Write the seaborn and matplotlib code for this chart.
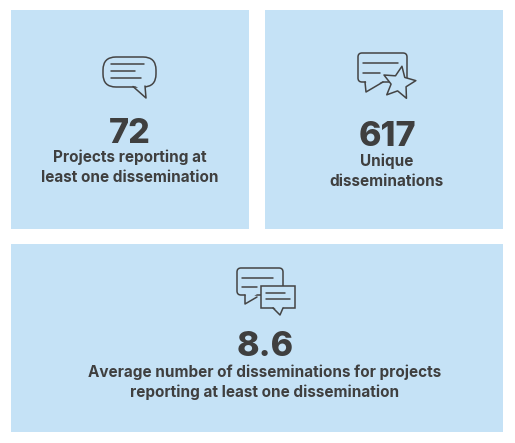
import numpy as np
import matplotlib
matplotlib.use("Agg")
import matplotlib.pyplot as plt
from matplotlib.patches import FancyBboxPatch, Rectangle, Polygon
import seaborn as sns

# Figures shown in the three panels
values = ["72", "617", "8.6"]
labels = [
    ["Projects reporting at", "least one dissemination"],
    ["Unique", "disseminations"],
    ["Average number of disseminations for projects",
     "reporting at least one dissemination"],
]

sns.set_theme(style="white")
plt.rcParams["font.family"] = ["Inter", "DejaVu Sans"]

BG = "#c5e2f6"
INK = "#3f3f3f"
ICON = "#444444"
LW = 1.1

fig = plt.figure(figsize=(5.15, 4.43), dpi=100)
ax = fig.add_axes([0, 0, 1, 1])
ax.set_xlim(0, 515)
ax.set_ylim(443, 0)
ax.axis("off")

# panel boxes: (x0, y0, w, h), number centre x, number baseline, first label baseline
panels = [
    ((11, 10, 238, 219), 130, 143, 162),
    ((265, 10, 238, 219), 387, 146, 166),
    ((11, 244, 492, 188), 265, 356, 377),
]

for (box, cx, nb, lb), val, lab in zip(panels, values, labels):
    ax.add_patch(Rectangle(box[:2], box[2], box[3], color=BG, lw=0))
    ax.text(cx, nb, val, ha="center", va="baseline", fontsize=24.5,
            fontweight="heavy", color=INK)
    for i, row in enumerate(lab):
        ax.text(cx, lb + 19.5 * i, row, ha="center", va="baseline",
                fontsize=11, fontweight="bold", color=INK)


def line(xs, ys, z=3):
    ax.plot(xs, ys, color=ICON, lw=LW, solid_capstyle="round",
            solid_joinstyle="round", zorder=z)


# icon 1: rounded speech bubble
ax.add_patch(FancyBboxPatch((103, 57), 53, 30,
                            boxstyle="round,pad=0,rounding_size=13",
                            fc="none", ec=ICON, lw=LW, zorder=3))
ax.add_patch(Polygon([(134, 85), (145, 85), (145, 93)], closed=True,
                     fc=BG, ec="none", zorder=4))
line([133, 146, 145], [86.5, 98, 86], z=5)
line([111, 144], [64, 64])
line([111, 135], [71, 71])
line([111, 141], [78, 78])

# icon 2: bubble with star
ax.add_patch(FancyBboxPatch((358, 53), 49, 29,
                            boxstyle="round,pad=0,rounding_size=4",
                            fc="none", ec=ICON, lw=LW, zorder=3))
ax.add_patch(Polygon([(366, 81), (383, 81), (367, 90)], closed=True,
                     fc=BG, ec="none", zorder=4))
line([365, 366, 383], [82, 92, 82], z=5)
line([363, 398], [63, 63])
line([363, 380], [73, 73])
ang = np.deg2rad(-80 + 36 * np.arange(10))
rad = np.where(np.arange(10) % 2 == 0, 17, 8)
star = np.column_stack([399 + rad * np.cos(ang), 83 + rad * np.sin(ang)])
ax.add_patch(Polygon(star, closed=True, fc=BG, ec=ICON, lw=LW,
                     joinstyle="round", zorder=6))

# icon 3: two overlapping bubbles
ax.add_patch(FancyBboxPatch((237, 268), 46, 27,
                            boxstyle="round,pad=0,rounding_size=4",
                            fc="none", ec=ICON, lw=LW, zorder=3))
ax.add_patch(Polygon([(245.5, 294), (257, 294), (246, 302)], closed=True,
                     fc=BG, ec="none", zorder=4))
line([245, 245, 257], [295, 304, 297], z=5)
line([242, 273], [278, 278])
line([242, 257], [287, 287])
ax.add_patch(Rectangle((261, 286), 34, 22, fc=BG, ec=ICON, lw=LW, zorder=6))
ax.add_patch(Polygon([(273.5, 307), (283, 307), (280, 313)], closed=True,
                     fc=BG, ec="none", zorder=7))
line([273, 280, 283], [308, 315, 308], z=8)
line([266, 285], [293, 293], z=8)
line([266, 290], [299, 299], z=8)

fig.savefig("out.png", dpi=100, facecolor="white")
